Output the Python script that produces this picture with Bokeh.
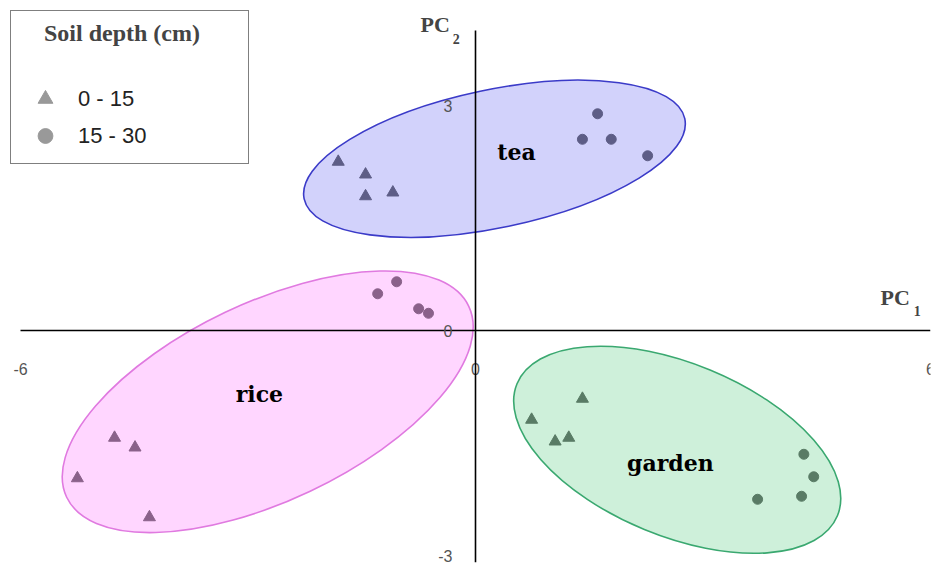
import math
from bokeh.plotting import figure
from bokeh.models import (Range1d, LinearAxis, FixedTicker, Legend, LegendItem,
                          Label, ColumnDataSource)
from bokeh.core.properties import value
from bokeh.embed import file_html
from bokeh.resources import INLINE

# ---------------- data ----------------
groups = ["tea", "rice", "garden"]

# group ellipses (centre, full width / height along own axes, tilt in degrees)
ell_x = [0.25, -2.74, 2.66]
ell_y = [2.29, -0.95, -1.59]
ell_w = [5.13, 5.87, 4.57]
ell_h = [1.84, 2.64, 2.30]
ell_tilt = [11.9, 25.4, -22.4]
ell_line = ["#3b3bc8", "#e07ae0", "#3aa870"]
ell_fill = ["#3333ee", "#ff44ff", "#22bb55"]

# group label positions
lab_x = [0.54, -2.85, 2.57]
lab_y = [2.38, -0.84, -1.77]

# soil depth 0-15 cm (triangles)
tea_tri_x = [-1.81, -1.45, -1.45, -1.09]
tea_tri_y = [2.25, 2.08, 1.79, 1.84]
rice_tri_x = [-4.76, -4.49, -5.25, -4.30]
rice_tri_y = [-1.43, -1.56, -1.97, -2.49]
garden_tri_x = [1.41, 0.74, 1.05, 1.23]
garden_tri_y = [-0.91, -1.19, -1.48, -1.43]

# soil depth 15-30 cm (circles)
tea_cir_x = [1.61, 1.41, 1.79, 2.27]
tea_cir_y = [2.89, 2.55, 2.55, 2.33]
rice_cir_x = [-1.04, -1.29, -0.75, -0.62]
rice_cir_y = [0.65, 0.49, 0.29, 0.23]
garden_cir_x = [4.33, 4.46, 4.30, 3.72]
garden_cir_y = [-1.65, -1.95, -2.21, -2.25]

x_ticks = [-6, 0, 6]
y_ticks = [-3, 0, 3]
legend_labels = ["0 - 15", "15 - 30"]

# ---------------- figure ----------------
p = figure(width=938, height=566,
           x_range=Range1d(-6.132, 6.0), y_range=Range1d(-3.093, 4.267),
           x_axis_type=None, y_axis_type=None,
           output_backend="svg", toolbar_location=None,
           min_border_left=10, min_border_right=8,
           min_border_top=10, min_border_bottom=4)
p.outline_line_color = None
p.background_fill_color = "white"

# axes crossing at the origin
axis_style = dict(major_tick_line_color=None, minor_tick_line_color=None,
                  axis_line_width=1.6, axis_line_color="black",
                  major_label_text_font="Liberation Sans",
                  major_label_text_font_size="16px",
                  major_label_text_color="#555555")
xaxis = LinearAxis(fixed_location=0, ticker=FixedTicker(ticks=x_ticks),
                   bounds=(-6, 6), major_label_standoff=26,
                   major_label_overrides={t: str(t) for t in x_ticks},
                   **axis_style)
yaxis = LinearAxis(fixed_location=0, ticker=FixedTicker(ticks=y_ticks),
                   bounds=(-3.093, 4.0), major_label_standoff=17,
                   major_label_overrides={t: str(t) for t in y_ticks},
                   **axis_style)
p.add_layout(xaxis, "below")
p.add_layout(yaxis, "left")

marker_grey = "#6a6a6a"
tri_x = tea_tri_x + rice_tri_x + garden_tri_x
tri_y = tea_tri_y + rice_tri_y + garden_tri_y
cir_x = tea_cir_x + rice_cir_x + garden_cir_x
cir_y = tea_cir_y + rice_cir_y + garden_cir_y
p.scatter(tri_x, tri_y, marker="triangle", size=12,
          fill_color=marker_grey, line_color=marker_grey)
p.scatter(cir_x, cir_y, marker="circle", size=10,
          fill_color=marker_grey, line_color=marker_grey)

ell_src = ColumnDataSource(dict(
    x=ell_x, y=ell_y, w=ell_w, h=ell_h,
    a=[math.radians(t) for t in ell_tilt],
    lc=ell_line, fc=ell_fill))
p.ellipse(x="x", y="y", width="w", height="h", angle="a", source=ell_src,
          fill_color="fc", fill_alpha=0.22, line_color="lc", line_width=1.6)

p.text(x=lab_x, y=lab_y, text=groups,
       text_font=value("DejaVu Serif"), text_font_style="bold",
       text_font_size="22px", text_align="center", text_baseline="middle",
       text_color="black")

# axis titles with subscripts
p.add_layout(Label(x=5.34, y=0.437, text="PC", text_font="Liberation Serif",
                   text_font_style="bold", text_font_size="22px",
                   text_baseline="alphabetic"))
p.add_layout(Label(x=5.78, y=0.267, text="1", text_font="Liberation Serif",
                   text_font_style="bold", text_font_size="14px",
                   text_baseline="alphabetic"))
p.add_layout(Label(x=-0.725, y=4.083, text="PC", text_font="Liberation Serif",
                   text_font_style="bold", text_font_size="22px",
                   text_baseline="alphabetic"))
p.add_layout(Label(x=-0.30, y=3.89, text="2", text_font="Liberation Serif",
                   text_font_style="bold", text_font_size="14px",
                   text_baseline="alphabetic"))

# legend (proxy renderers whose only point is NaN, so nothing shows in the plot)
nan = float("nan")
leg_grey = "#999999"
r_tri = p.scatter([nan], [nan], marker="triangle", fill_color=leg_grey, line_color=leg_grey)
r_cir = p.scatter([nan], [nan], marker="circle", fill_color=leg_grey, line_color=leg_grey)
legend = Legend(items=[LegendItem(label=legend_labels[0], renderers=[r_tri]),
                       LegendItem(label=legend_labels[1], renderers=[r_cir])],
                title="\u00a0\u00a0\u00a0\u00a0Soil depth (cm)",
                title_text_font="Liberation Serif", title_text_font_style="bold",
                title_text_font_size="24px", title_standoff=33,
                label_text_font="Liberation Sans", label_text_font_size="22px",
                label_text_color="#222222",
                glyph_width=50, glyph_height=37, spacing=0,
                label_standoff=8, label_width=161, padding=9, margin=0,
                border_line_color="black", border_line_width=1.5,
                background_fill_color="white", background_fill_alpha=1.0,
                location="top_left")
p.add_layout(legend)

open("out.html", "w").write(file_html(p, INLINE))
